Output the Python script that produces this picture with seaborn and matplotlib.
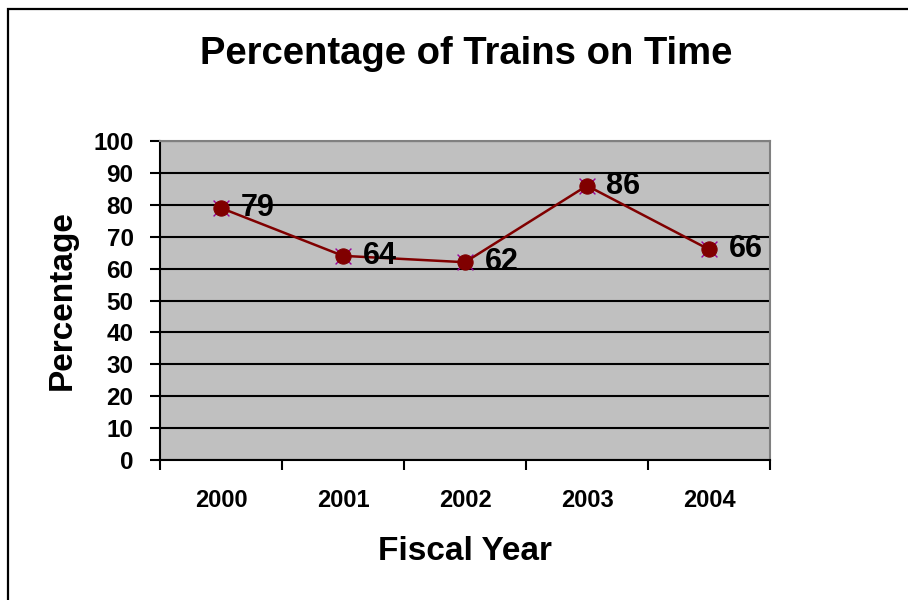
import matplotlib
matplotlib.use("Agg")
import matplotlib.pyplot as plt
import matplotlib.patches as patches
import pandas as pd
import seaborn as sns

# Chart data
years = ["2000", "2001", "2002", "2003", "2004"]
on_time = [79, 64, 62, 86, 66]

sns.set_style("white")
plt.rcParams["font.family"] = ["Liberation Sans", "DejaVu Sans"]
plt.rcParams["font.weight"] = "bold"
plt.rcParams["text.color"] = "black"
plt.rcParams["xtick.color"] = "black"
plt.rcParams["ytick.color"] = "black"

df = pd.DataFrame({"year": years, "pct": on_time})

fig = plt.figure(figsize=(9.08, 6), dpi=100)
ax = fig.add_axes([160 / 908, 1 - 460 / 600, 610 / 908, 319 / 600])
ax.set_facecolor("#C0C0C0")

# Outer chart frame (cropped at the right and bottom)
frame = patches.Rectangle((8 / 908, -0.5), 2, 1.5 - 8.5 / 600, transform=fig.transFigure,
                          fill=False, edgecolor="black", linewidth=1.6, zorder=0)
fig.patches.append(frame)

# Purple x markers under the dark red circles (Excel-style marker)
sns.scatterplot(x="year", y="pct", data=df, marker="x", color="#990099",
                s=130, linewidth=1.0, ax=ax, zorder=3, legend=False)
sns.lineplot(x="year", y="pct", data=df, color="#800000", linewidth=1.8,
             marker="o", markersize=11, markeredgecolor="#800000",
             markerfacecolor="#800000", ax=ax, zorder=4, legend=False)

for i, v in enumerate(on_time):
    ax.annotate(str(v), (i, v), xytext=(14, 0), textcoords="offset points",
                ha="left", va="center", fontsize=22, fontweight="bold",
                color="black", zorder=5)

ax.set_xlim(-0.5, len(years) - 0.5)
ax.set_ylim(0, 100)
ax.set_yticks(range(0, 101, 10))
ax.yaxis.grid(True, color="black", linewidth=1.5)
ax.set_axisbelow(True)

# category boundaries as ticks, labels centred on categories
ax.set_xticks([i - 0.5 for i in range(len(years) + 1)])
ax.set_xticklabels([])
ax.set_xticks(range(len(years)), minor=True)
ax.set_xticklabels(years, minor=True, fontsize=17, fontweight="bold")
ax.tick_params(axis="x", which="major", bottom=True, direction="out", length=7,
               width=1.5, color="black")
ax.tick_params(axis="x", which="minor", bottom=True, length=0, pad=21)
ax.tick_params(axis="y", left=True, direction="out", length=7, width=1.5, color="black",
               pad=12, labelsize=17.5)
for lbl in ax.get_yticklabels():
    lbl.set_fontweight("bold")

for side in ["left", "bottom"]:
    ax.spines[side].set_color("black")
    ax.spines[side].set_linewidth(1.5)
for side in ["top", "right"]:
    ax.spines[side].set_visible(True)
    ax.spines[side].set_color("#808080")
    ax.spines[side].set_linewidth(1.5)

ax.set_xlabel("")
ax.set_ylabel("")
fig.text(466 / 908, 1 - 54 / 600, "Percentage of Trains on Time", ha="center", va="center",
         fontsize=27.5, fontweight="bold")
fig.text(465 / 908, 1 - 551 / 600, "Fiscal Year", ha="center", va="center",
         fontsize=24, fontweight="bold")
fig.text(62 / 908, 1 - 300 / 600, "Percentage", ha="center", va="center", rotation=90,
         fontsize=24, fontweight="bold")

fig.savefig("out.png", dpi=100)
